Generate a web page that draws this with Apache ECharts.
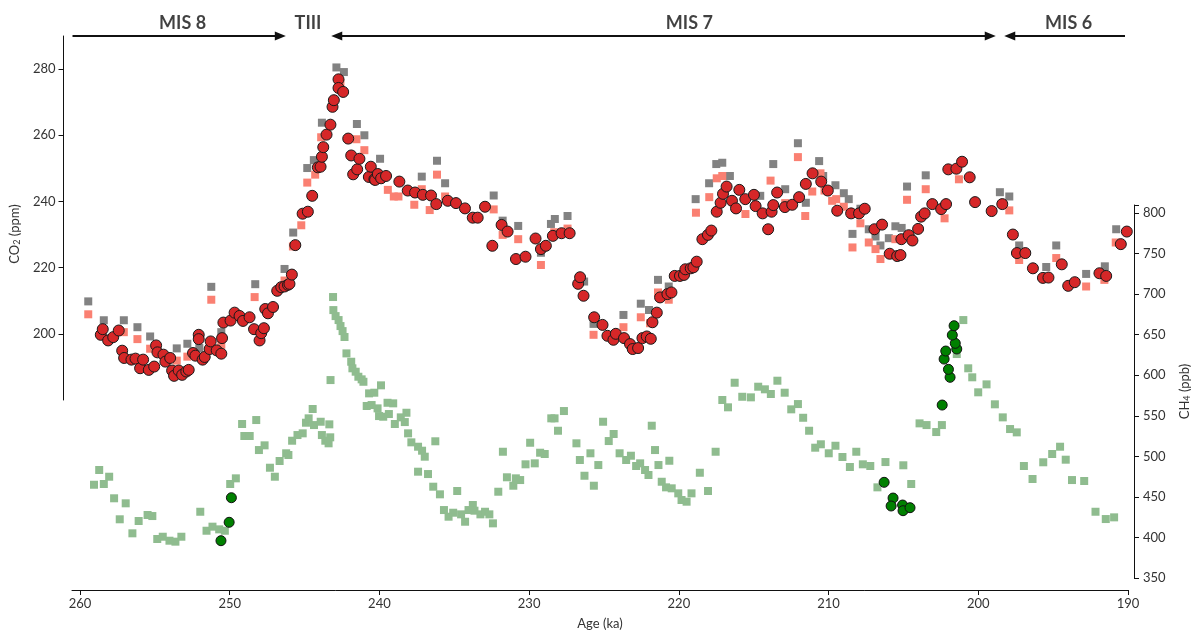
<!DOCTYPE html>
<html>
<head>
<meta charset="utf-8">
<script src="https://cdn.jsdelivr.net/npm/echarts@6/dist/echarts.min.js"></script>
<style>
  html, body { margin: 0; padding: 0; background: #fff; }
  #chart { width: 1200px; height: 633px; }
</style>
</head>
<body>
<div id="chart"></div>
<script>
// ---- data: [age (ka), value] ----
// CO2, ice-core record (red circles)
const co2Main = [
  [258.71,199.7],[258.58,201.4],[258.22,198.0],[257.88,199.0],[257.51,201.0],[257.28,194.9],[257.15,192.7],
  [256.66,192.2],[256.39,192.5],[256.08,189.6],[255.88,192.2],[255.50,189.1],[255.14,190.1],[255.01,196.5],
  [254.92,194.4],[254.52,193.7],[254.39,191.6],[254.07,192.7],[253.94,188.9],[253.81,187.3],[253.50,188.9],
  [253.27,187.6],[252.99,188.6],[252.83,189.1],[252.54,194.2],[252.38,193.4],[252.16,199.7],[252.16,198.4],
  [251.90,192.2],[251.76,193.0],[251.43,195.4],[251.36,197.7],[250.96,195.0],[250.65,194.0],[250.60,198.7],
  [250.51,203.4],[250.03,204.0],[249.76,206.4],[249.43,205.4],[249.20,203.9],[248.76,205.0],[248.46,201.4],
  [248.09,198.0],[247.98,200.2],[247.80,201.7],[247.71,207.5],[247.53,206.2],[247.19,208.1],[246.91,213.0],
  [246.64,214.1],[246.42,214.3],[246.19,214.8],[246.09,215.1],[245.93,217.9],[245.70,226.8],[245.21,236.3],
  [244.86,236.9],[244.57,241.7],[244.19,250.3],[244.01,250.5],[243.92,253.5],[243.83,256.4],[243.61,260.2],
  [243.35,263.2],[243.21,268.6],[243.12,270.6],[242.81,276.9],[242.81,274.3],[242.50,273.1],[242.16,259.0],
  [241.96,253.9],[241.83,248.2],[241.56,249.7],[241.41,252.9],[240.78,247.4],[240.65,250.5],[240.41,246.7],
  [240.36,246.5],[240.18,248.3],[239.96,247.0],[239.63,247.7],[238.74,246.0],[238.18,243.3],[237.69,242.7],
  [237.17,242.0],[236.62,241.8],[236.27,239.2],[235.50,240.2],[234.95,239.5],[234.35,237.9],[233.83,235.1],
  [233.50,235.1],[233.01,238.4],[232.52,226.6],[231.90,232.9],[231.50,230.9],[230.94,222.6],[230.30,223.3],
  [229.63,228.8],[229.27,225.6],[228.94,226.6],[228.47,229.6],[227.89,230.4],[227.35,230.4],[226.78,215.1],
  [226.65,217.1],[226.42,211.5],[225.71,205.0],[225.15,202.7],[224.82,199.4],[224.42,198.2],[224.26,200.0],
  [223.71,198.7],[223.31,196.9],[223.13,195.4],[222.77,195.7],[222.48,198.7],[222.19,199.2],[221.92,198.5],
  [221.81,203.5],[221.52,206.4],[221.30,211.0],[220.81,212.0],[220.54,212.5],[220.32,217.5],[219.97,217.5],
  [219.70,217.8],[219.61,219.5],[219.25,219.8],[219.07,220.1],[218.85,221.8],[218.47,228.6],[218.10,229.9],
  [217.87,231.2],[217.51,236.9],[217.25,239.6],[217.09,242.3],[216.85,244.5],[216.49,240.2],[216.22,237.9],
  [216.00,243.5],[215.60,240.7],[215.02,242.0],[214.91,238.6],[214.44,236.4],[214.07,231.6],[213.84,236.9],
  [213.73,238.9],[213.47,242.7],[212.95,238.3],[212.46,239.0],[212.00,241.3],[211.55,245.3],[211.10,248.5],
  [210.52,246.0],[210.08,243.3],[209.45,237.2],[208.52,236.4],[207.99,236.4],[207.61,237.8],[206.96,231.6],
  [206.45,233.0],[205.94,224.2],[205.44,223.5],[205.22,223.8],[205.16,228.6],[204.67,229.8],[204.42,228.2],
  [204.04,231.7],[203.84,235.4],[203.60,236.4],[203.09,239.2],[202.50,237.7],[202.17,239.2],[202.02,249.7],
  [201.48,249.9],[201.10,252.0],[200.59,247.3],[200.23,239.8],[199.12,237.1],[198.41,239.2],[197.70,230.0],
  [197.43,224.4],[196.87,224.4],[196.36,219.8],[195.69,216.9],[195.32,217.0],[194.43,221.0],[194.00,214.5],
  [193.56,215.6],[191.91,218.3],[191.46,217.5],[190.48,227.1],[190.08,230.9]
];

// CO2, composite record (grey squares)
const co2Grey = [
  [259.55,209.8],[258.51,204.1],[257.17,204.1],[256.26,202.0],[255.41,199.2],[253.63,195.6],[252.92,197.0],
  [252.12,195.7],[251.32,214.2],[250.65,200.5],[248.38,215.0],[246.42,219.6],[245.84,230.6],[244.90,250.1],
  [244.46,252.5],[243.92,263.8],[242.95,280.5],[242.45,279.1],[241.58,263.4],[241.08,260.0],[240.03,252.9],
  [237.24,247.5],[236.22,252.3],[235.68,245.5],[232.43,241.8],[231.83,234.2],[230.79,232.6],[229.27,224.5],
  [228.60,233.2],[228.34,234.7],[227.49,235.6],[226.38,215.8],[225.75,203.0],[223.75,205.7],[222.59,209.1],
  [222.04,207.2],[221.44,216.3],[220.72,214.3],[218.92,240.7],[218.02,245.5],[217.54,251.3],[217.14,251.7],
  [216.63,247.7],[214.60,241.7],[213.73,251.3],[212.93,243.7],[212.08,257.6],[211.55,239.6],[210.66,252.2],
  [210.39,247.7],[209.57,244.9],[209.01,242.5],[208.68,240.7],[208.43,230.2],[207.90,237.8],[207.34,231.6],
  [206.89,229.4],[206.56,226.7],[206.00,228.9],[205.56,232.5],[205.14,232.0],[204.78,244.5],[203.53,247.9],
  [198.57,242.8],[197.94,241.5],[197.28,226.7],[195.47,220.2],[194.80,226.7],[192.80,218.1],[191.55,220.4],
  [190.79,231.6]
];

// CO2, alternative age scale (salmon squares)
const co2Salmon = [
  [259.55,205.9],[257.17,200.5],[256.26,198.4],[255.41,195.5],[253.63,191.9],[252.92,193.1],[251.32,210.3],
  [250.65,196.7],[248.42,211.1],[246.42,216.1],[245.86,226.4],[245.30,232.8],[244.90,245.7],[244.37,248.1],
  [243.97,259.4],[242.68,275.7],[241.61,258.8],[241.08,255.5],[239.51,243.5],[239.11,241.5],[238.80,241.5],
  [237.74,239.0],[237.24,243.7],[236.71,237.4],[236.22,248.1],[235.68,241.5],[232.43,237.6],[231.83,229.9],
  [230.79,228.6],[229.27,220.8],[228.38,230.7],[227.49,231.8],[225.75,199.7],[223.75,202.0],[222.59,205.0],
  [221.97,203.2],[221.44,212.5],[220.72,210.3],[218.90,236.6],[218.01,241.3],[217.51,247.0],[217.14,247.7],
  [215.59,236.2],[213.91,246.3],[212.93,239.5],[212.08,253.4],[211.59,235.6],[211.12,243.0],[210.57,248.5],
  [210.30,243.3],[209.79,240.2],[209.52,240.7],[209.01,238.4],[208.43,226.1],[207.90,233.4],[207.34,227.6],
  [206.89,225.6],[206.56,222.6],[205.56,228.6],[204.78,240.5],[203.53,243.7],[202.27,234.9],[201.31,246.7],
  [197.94,237.3],[197.28,222.3],[194.80,222.9],[192.80,214.3],[191.58,216.3],[190.82,227.6]
];

// CH4, composite record (green squares)
const ch4Squares = [
  [259.06,465.0],[258.71,483.2],[258.40,465.9],[258.04,474.9],[257.71,448.3],[257.33,422.4],[256.93,442.1],
  [256.48,405.1],[256.06,420.3],[255.46,427.7],[255.14,426.4],[254.81,398.1],[254.44,400.9],[253.99,396.0],
  [253.59,394.8],[253.19,400.9],[251.92,431.7],[251.50,408.3],[251.10,413.3],[250.65,410.0],[250.27,408.3],
  [249.91,465.9],[249.53,472.9],[249.11,539.9],[248.96,525.1],[248.60,525.1],[248.16,544.8],[247.98,507.8],
  [247.60,513.6],[247.24,486.0],[246.91,474.9],[246.59,494.3],[246.15,503.8],[246.00,501.7],[245.75,519.3],
  [245.39,526.3],[245.04,528.4],[244.82,541.5],[244.64,546.9],[244.37,558.4],[244.28,538.6],[243.83,542.7],
  [243.75,526.3],[243.52,519.3],[243.30,516.1],[243.25,539.5],[243.19,523.5],[243.17,594.1],[243.00,696.5],
  [242.98,680.4],[242.83,673.0],[242.63,668.1],[242.50,660.7],[242.36,654.5],[242.23,647.2],[242.10,627.0],
  [241.78,616.7],[241.70,608.6],[241.48,604.4],[241.30,598.2],[241.08,595.0],[240.96,592.0],[239.78,587.6],
  [240.58,577.7],[240.23,578.5],[240.74,562.1],[240.41,563.3],[240.01,559.2],[239.34,566.1],[238.96,565.4],
  [239.91,549.7],[239.63,548.9],[239.25,552.2],[238.45,548.1],[238.07,553.8],[238.85,539.9],[238.18,542.3],
  [237.96,528.4],[237.74,517.3],[237.29,511.9],[237.02,507.0],[236.84,499.6],[236.13,518.6],[237.29,481.1],
  [236.62,478.2],[236.27,462.6],[235.82,453.2],[234.66,457.3],[235.55,433.8],[235.24,425.6],[234.93,430.5],
  [234.40,428.5],[234.13,419.4],[233.90,433.8],[233.61,440.0],[233.50,433.0],[233.10,428.5],[232.79,431.7],
  [232.50,428.5],[232.26,417.4],[231.90,456.4],[231.59,505.7],[231.32,474.2],[230.89,463.8],[230.72,472.9],
  [230.43,470.8],[230.07,490.2],[229.76,516.8],[229.45,491.4],[229.09,504.5],[228.78,502.9],[228.34,546.9],
  [228.12,546.9],[227.89,531.6],[227.49,555.9],[226.65,516.1],[226.42,495.5],[226.11,476.1],[225.71,503.8],
  [225.48,463.8],[225.18,489.3],[224.86,542.7],[224.48,518.9],[224.15,527.6],[223.75,503.8],[223.31,495.5],
  [222.99,500.8],[222.64,488.1],[222.37,491.4],[222.04,483.2],[221.81,477.0],[221.59,537.8],[221.37,507.8],
  [221.14,489.3],[220.92,468.7],[220.63,461.8],[220.41,494.6],[220.25,460.6],[219.81,454.4],[219.59,446.2],
  [219.25,444.1],[218.92,454.4],[218.36,479.8],[217.81,457.3],[217.30,505.7],[216.85,569.5],[216.47,560.5],
  [216.02,590.8],[215.51,573.5],[214.93,572.8],[214.44,585.9],[213.99,582.7],[213.59,576.9],[213.15,593.3],
  [212.66,578.5],[212.22,558.0],[211.77,564.5],[211.42,547.6],[211.02,531.6],[210.61,510.7],[210.23,514.9],
  [209.70,503.8],[209.25,513.1],[208.78,499.2],[208.28,486.9],[207.85,505.7],[207.41,490.2],[206.91,488.1],
  [206.43,461.8],[205.89,493.0],[204.69,489.0],[204.16,465.9],[203.60,540.7],[203.13,538.6],[202.48,530.0],
  [202.10,538.6],[201.10,626.2],[200.66,668.1],[200.33,608.6],[200.06,597.5],[199.66,579.0],[199.10,588.8],
  [198.54,564.2],[198.01,548.1],[197.52,533.7],[197.07,529.6],[196.59,488.1],[196.01,472.1],[195.29,492.7],
  [194.69,502.9],[194.16,511.9],[193.78,495.9],[193.36,470.8],[192.54,469.6],[191.78,431.7],[191.09,422.7],
  [190.53,424.8],[189.85,462.6]
];

// CH4, high-resolution record (dark green circles)
const ch4Circles = [
  [250.53,396.0],[249.98,418.7],[249.83,449.0],
  [205.98,468.0],[205.38,448.6],[205.51,438.8],[204.74,440.0],[204.71,433.0],[204.24,436.7],
  [202.08,563.3],[201.55,597.5],[201.66,607.3],[201.95,620.0],[201.84,629.9],[201.10,632.4],[201.20,639.4],
  [201.40,649.6],[201.28,661.1]
];

// axis ticks
const ageTicks = [260, 250, 240, 230, 220, 210, 200, 190];
const co2Ticks = [200, 220, 240, 260, 280];

// marine isotope stages along the top: label position and arrow span (ka)
const stageNames   = ['MIS 8', 'TIII', 'MIS 7', 'MIS 6'];
const stageLabelAt = [253.15, 244.77, 219.3, 193.97];
const stageArrows = [
  { from: 260.5,  to: 246.62, heads: ['none', 'triangle'] },
  { from: 242.85, to: 199.2,  heads: ['triangle', 'triangle'] },
  { from: 197.9,  to: 190.2,  heads: ['triangle', 'none'] }
];

// ---- layout ----
const FONT = 'Lato, "Open Sans", sans-serif';
// the age scale: 260 ka at x=80 px, 190 ka at x=1128 px
function ageAt(px) { return 260 + (px - 80) * (190 - 260) / (1128 - 80); }
function band(l, r) { return { left: l, width: r - l, min: ageAt(r), max: ageAt(l) }; }

const bData = band(80, 1128);   // plotting area shared by both records
const bAge  = band(72, 1128);   // bottom age axis line
const bTop  = band(62, 1140);   // stage annotations

function hiddenX(idx, b) {
  return { gridIndex: idx, type: 'value', inverse: true, min: b.min, max: b.max, show: false };
}

const subRich = { s: { fontFamily: FONT, fontSize: 9, color: '#333', padding: [6, 0, 0, 0] } };

const chart = echarts.init(document.getElementById('chart'), null, { renderer: 'canvas' });

chart.setOption({
  animation: false,
  backgroundColor: '#fff',
  textStyle: { fontFamily: FONT },
  grid: [
    { left: bData.left, width: bData.width, top: 36, height: 364 },
    { left: bData.left, width: bData.width, top: 205, height: 373 },
    { left: bAge.left, width: bAge.width, top: 589, height: 1 },
    { left: bTop.left, width: bTop.width, top: 8, height: 28 }
  ],
  xAxis: [
    hiddenX(0, bData),
    hiddenX(1, bData),
    {
      gridIndex: 2, type: 'value', inverse: true, min: bAge.min, max: bAge.max,
      position: 'bottom',
      name: 'Age (ka)', nameLocation: 'middle', nameGap: 27,
      nameTextStyle: { fontFamily: FONT, fontSize: 13, color: '#333' },
      axisLine: { show: true, lineStyle: { color: '#111', width: 1 } },
      axisTick: { show: true, customValues: ageTicks, length: 5, lineStyle: { color: '#111' } },
      axisLabel: { customValues: ageTicks, fontFamily: FONT, fontSize: 13, color: '#333', margin: 7 },
      splitLine: { show: false }
    },
    hiddenX(3, bTop)
  ],
  yAxis: [
    {
      gridIndex: 0, type: 'value', min: 180, max: 290, position: 'left', offset: 18,
      name: 'CO{s|2} (ppm)', nameLocation: 'middle', nameGap: 40, nameRotate: 90,
      nameTextStyle: {
        fontFamily: FONT, fontSize: 13, color: '#333', padding: [0, 32, 0, 0], rich: subRich
      },
      axisLine: { show: true, lineStyle: { color: '#111', width: 1 } },
      axisTick: { show: true, customValues: co2Ticks, length: 5, lineStyle: { color: '#111' } },
      axisLabel: { customValues: co2Ticks, fontFamily: FONT, fontSize: 13, color: '#333', margin: 8 },
      splitLine: { show: false }
    },
    {
      gridIndex: 1, type: 'value', min: 350, max: 810, interval: 50, position: 'right', offset: 12,
      name: 'CH{s|4} (ppb)', nameLocation: 'middle', nameGap: 43, nameRotate: 90,
      nameTextStyle: { fontFamily: FONT, fontSize: 13, color: '#333', rich: subRich },
      axisLine: { show: true, lineStyle: { color: '#111', width: 1 } },
      axisTick: { show: true, length: 5, lineStyle: { color: '#111' } },
      axisLabel: { fontFamily: FONT, fontSize: 13, color: '#333', margin: 9,
        formatter: v => (v > 800 ? '' : String(v)) },
      splitLine: { show: false }
    },
    { gridIndex: 2, type: 'value', show: false },
    { gridIndex: 3, type: 'value', min: 0, max: 1, show: false }
  ],
  series: [
    {
      name: 'CO2 grey', type: 'scatter', xAxisIndex: 0, yAxisIndex: 0,
      symbol: 'rect', symbolSize: 8, data: co2Grey,
      itemStyle: { color: '#828282', opacity: 1 }, z: 2
    },
    {
      name: 'CO2 salmon', type: 'scatter', xAxisIndex: 0, yAxisIndex: 0,
      symbol: 'rect', symbolSize: 8, data: co2Salmon,
      itemStyle: { color: '#FA8072', opacity: 1 }, z: 3
    },
    {
      name: 'CO2', type: 'scatter', xAxisIndex: 0, yAxisIndex: 0,
      symbol: 'circle', symbolSize: 11, data: co2Main,
      itemStyle: { color: '#D62728', borderColor: '#1a1a1a', borderWidth: 1, opacity: 1 }, z: 4
    },
    {
      name: 'CH4', type: 'scatter', xAxisIndex: 1, yAxisIndex: 1,
      symbol: 'rect', symbolSize: 8, data: ch4Squares, clip: true,
      itemStyle: { color: '#8FBC8F', opacity: 1 }, z: 2
    },
    {
      name: 'CH4 high-res', type: 'scatter', xAxisIndex: 1, yAxisIndex: 1,
      symbol: 'circle', symbolSize: 10, data: ch4Circles,
      itemStyle: { color: '#008000', borderColor: '#111', borderWidth: 1, opacity: 1 }, z: 4
    },
    {
      name: 'stages', type: 'scatter', xAxisIndex: 3, yAxisIndex: 3,
      symbolSize: 0, silent: true,
      data: stageNames.map((n, i) => ({ name: n, value: [stageLabelAt[i], 0.47] })),
      label: {
        show: true, position: 'inside', formatter: p => p.name,
        fontFamily: FONT, fontWeight: 'bold', fontSize: 18, color: '#111'
      },
      markLine: {
        silent: true, symbolSize: [9, 11],
        label: { show: false },
        lineStyle: { color: '#111', width: 2, type: 'solid' },
        data: stageArrows.map(a => [
          { coord: [a.from, 0], symbol: a.heads[0] },
          { coord: [a.to, 0], symbol: a.heads[1] }
        ])
      }
    }
  ]
});
</script>
</body>
</html>
